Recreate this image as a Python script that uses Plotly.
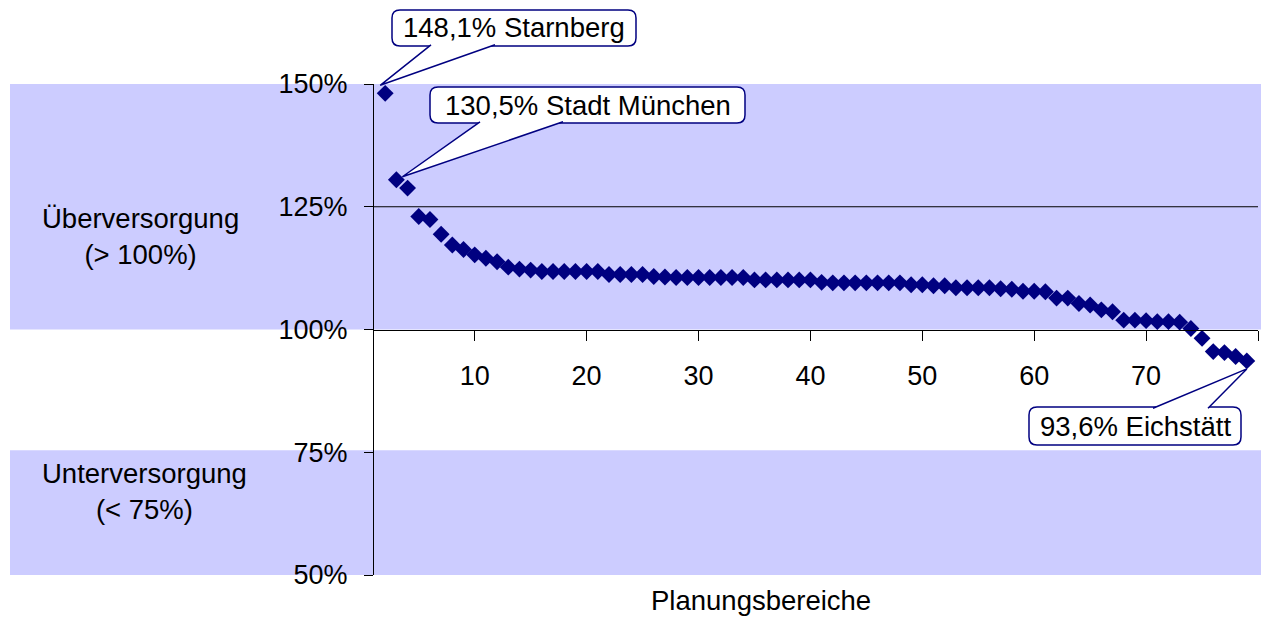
import plotly.graph_objects as go

# ---------------- data ----------------
planungsbereich = list(range(2, 80))
versorgungsgrad = [
    148.1, 130.5, 128.8, 123.0, 122.4, 119.4, 117.2, 116.3, 115.2, 114.5,
    113.8, 112.7, 112.3, 112.1, 111.8, 111.8, 111.8, 111.8, 111.8, 111.8,
    111.2, 111.2, 111.2, 111.2, 110.8, 110.7, 110.6, 110.6, 110.6, 110.6,
    110.6, 110.6, 110.6, 110.1, 110.1, 110.1, 110.1, 110.1, 110.1, 109.6,
    109.5, 109.5, 109.5, 109.5, 109.5, 109.5, 109.5, 109.1, 109.1, 108.9,
    108.9, 108.5, 108.5, 108.5, 108.5, 108.3, 108.2, 107.8, 107.8, 107.7,
    106.4, 106.4, 105.3, 105.0, 104.0, 103.6, 101.9, 101.9, 101.8, 101.6,
    101.6, 101.5, 100.2, 98.2, 95.5, 95.3, 94.5, 93.6,
]
y_ticks = [50, 75, 100, 125, 150]
x_ticks = [10, 20, 30, 40, 50, 60, 70, 80]
x_ticktext = ["10", "20", "30", "40", "50", "60", "70", ""]
callout_names = ["Starnberg", "Stadt München", "Eichstätt"]
callout_idx = [0, 1, len(versorgungsgrad) - 1]

# ---------------- geometry ----------------
W, H = 1261, 618
L, R, T, B = 374, 3, 84, 43
PW, PH = W - L - R, H - T - B
XR = [1, 80]
YR = [50, 150]
NAVY = "#000080"
BAND = "#CCCCFF"
FONT = "Liberation Sans, Arial, sans-serif"
FS_TEXT = 27.5
FS_TICK = 27


def px(x):
    return (x - L) / PW


def py(y):
    return (H - B - y) / PH


def data_to_paper(xv, yv):
    return (xv - XR[0]) / (XR[1] - XR[0]), (yv - YR[0]) / (YR[1] - YR[0])


fig = go.Figure()
fig.add_trace(go.Scatter(
    x=planungsbereich, y=versorgungsgrad, mode="markers",
    marker=dict(symbol="diamond", size=13, color=NAVY, line=dict(width=0)),
    cliponaxis=False, showlegend=False, hoverinfo="x+y",
))

shapes = []
# bands
shapes.append(dict(type="rect", xref="paper", yref="y", x0=px(10), x1=px(W), y0=100, y1=151,
                   fillcolor=BAND, line=dict(width=0), layer="below"))
shapes.append(dict(type="rect", xref="paper", yref="y", x0=px(10), x1=px(W), y0=50, y1=75.4,
                   fillcolor=BAND, line=dict(width=0), layer="below"))
# 125% line
shapes.append(dict(type="line", xref="paper", yref="y", x0=0, x1=1, y0=125, y1=125,
                   line=dict(color="black", width=1), layer="below"))


def rounded_rect(x0, y0, x1, y1, r):
    def P(a, b):
        return f"{px(a):.5f},{py(b):.5f}"
    pts = [
        f"M{P(x0 + r, y0)}", f"L{P(x1 - r, y0)}", f"Q{P(x1, y0)} {P(x1, y0 + r)}",
        f"L{P(x1, y1 - r)}", f"Q{P(x1, y1)} {P(x1 - r, y1)}", f"L{P(x0 + r, y1)}",
        f"Q{P(x0, y1)} {P(x0, y1 - r)}", f"L{P(x0, y0 + r)}", f"Q{P(x0, y0)} {P(x0 + r, y0)}", "Z",
    ]
    return " ".join(pts)


# callout boxes: (x0, y0, x1, y1) in px, tail base x's, base y, tip offset (px)
callouts = [
    ((392, 10, 636, 46), (431, 495), 46, (-5, -8)),
    ((430, 87, 745, 123), (480, 563), 123, (6, -3)),
    ((1029, 407, 1241, 445), (1153, 1208), 407, (0, 8)),
]
annotations = []
for (box, base, by, off), name, idx in zip(callouts, callout_names, callout_idx):
    xv, yv = planungsbereich[idx], versorgungsgrad[idx]
    tx, ty = data_to_paper(xv, yv)
    tx += off[0] / PW
    ty -= off[1] / PH
    shapes.append(dict(type="path", xref="paper", yref="paper", path=rounded_rect(*box, 8),
                       fillcolor="white", line=dict(color=NAVY, width=1.5), layer="above"))
    inside = 1.2 if by == box[3] else -1.2
    b1 = f"{px(base[0]):.5f},{py(by - inside):.5f}"
    b2 = f"{px(base[1]):.5f},{py(by - inside):.5f}"
    shapes.append(dict(type="path", xref="paper", yref="paper",
                       path=f"M{b1} L{tx:.5f},{ty:.5f} L{b2}",
                       fillcolor="white", line=dict(color=NAVY, width=1.5), layer="above"))
    label = f"{yv:.1f}".replace(".", ",") + "% " + name
    annotations.append(dict(xref="paper", yref="paper", x=px((box[0] + box[2]) / 2),
                            y=py((box[1] + box[3]) / 2), text=label, showarrow=False,
                            xanchor="center", yanchor="middle",
                            font=dict(family=FONT, size=FS_TEXT, color="black")))

annotations.append(dict(xref="paper", yref="paper", x=px(140), y=py(236),
                        text="Überversorgung<br>(> 100%)", showarrow=False,
                        xanchor="center", yanchor="middle",
                        font=dict(family=FONT, size=FS_TEXT, color="black")))
annotations.append(dict(xref="paper", yref="paper", x=px(145), y=py(491),
                        text="Unterversorgung<br>(< 75%)", showarrow=False,
                        xanchor="center", yanchor="middle",
                        font=dict(family=FONT, size=FS_TEXT, color="black")))
annotations.append(dict(xref="paper", yref="paper", x=px(761), y=py(600),
                        text="Planungsbereiche", showarrow=False,
                        xanchor="center", yanchor="middle",
                        font=dict(family=FONT, size=FS_TEXT, color="black")))

fig.update_layout(
    width=W, height=H,
    margin=dict(l=L, r=R, t=T, b=B, autoexpand=False),
    paper_bgcolor="white", plot_bgcolor="rgba(0,0,0,0)",
    font=dict(family=FONT, size=FS_TICK, color="black"),
    shapes=shapes, annotations=annotations, showlegend=False,
    xaxis=dict(range=XR, anchor="free", position=0.5, tickmode="array",
               tickvals=x_ticks, ticktext=x_ticktext, ticks="outside", ticklen=10,
               tickcolor="black", tickwidth=1, showline=True, linecolor="black",
               linewidth=1, showgrid=False, zeroline=False, ticklabelstandoff=12,
               tickfont=dict(family=FONT, size=FS_TICK, color="black")),
    yaxis=dict(range=YR, tickmode="array", tickvals=y_ticks,
               ticktext=[f"{v}%" for v in y_ticks], ticks="outside", ticklen=9,
               tickcolor="black", tickwidth=1, showline=True, linecolor="black",
               linewidth=1, showgrid=False, zeroline=False, ticklabelstandoff=11,
               tickfont=dict(family=FONT, size=FS_TICK, color="black")),
)

fig.write_html(
    "out.html",
    config={"displayModeBar": False},
    post_script="document.body.style.margin='0';document.body.style.overflow='hidden';",
)
